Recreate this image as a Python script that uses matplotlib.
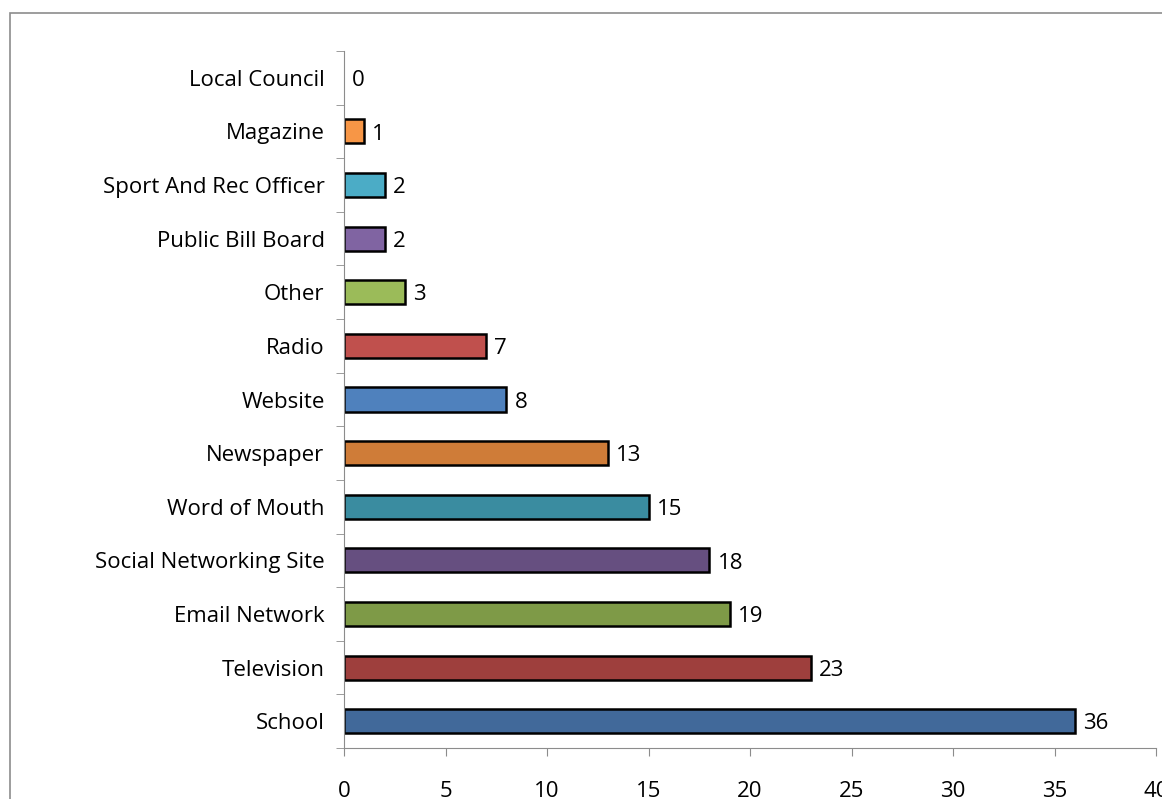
import matplotlib.pyplot as plt
from matplotlib.patches import Rectangle
import numpy as np

# where people heard about the program (count of responses)
sources = ["School", "Television", "Email Network", "Social Networking Site",
           "Word of Mouth", "Newspaper", "Website", "Radio", "Other",
           "Public Bill Board", "Sport And Rec Officer", "Magazine", "Local Council"]
counts = [36, 23, 19, 18, 15, 13, 8, 7, 3, 2, 2, 1, 0]
colours = ["#41699a", "#9e3f3d", "#7e9a47", "#664f80", "#3a8ca0", "#cf7c38",
           "#4f81bd", "#c0504d", "#9bbb59", "#8064a2", "#4bacc6", "#f79646", "#4f81bd"]
x_ticks = [0, 5, 10, 15, 20, 25, 30, 35, 40]

plt.rcParams['font.family'] = ['Open Sans', 'DejaVu Sans']

fig = plt.figure(figsize=(11.62, 7.99), dpi=100)
fig.patches.append(Rectangle((10 / 1162, -0.05), 1.1, 1 - 13 / 799 + 0.05,
                             transform=fig.transFigure, fill=False,
                             edgecolor="#8c8c8c", linewidth=1.2))

ax = fig.add_axes([344 / 1162, 1 - 748 / 799, (1156 - 344) / 1162, (748 - 51) / 799])
y = np.arange(len(sources))
# empty categories get no outline so nothing shows at zero
widths = [1.8 if c > 0 else 0 for c in counts]
ax.barh(y, counts, height=0.45, color=colours, edgecolor="black", linewidth=widths)

for yi, c in zip(y, counts):
    ax.text(c + 0.4, yi - 0.05, str(c), va="center", ha="left", fontsize=16)

ax.set_xlim(0, 40)
ax.set_ylim(-0.5, len(sources) - 0.5)
ax.set_xticks(x_ticks)
ax.set_yticks(y)
ax.set_yticklabels(sources)
ax.set_yticks(np.arange(-0.5, len(sources)), minor=True)

for side in ("top", "right"):
    ax.spines[side].set_visible(False)
for side in ("left", "bottom"):
    ax.spines[side].set_color("#8c8c8c")

ax.tick_params(axis="x", length=6, color="#8c8c8c", pad=18, labelsize=16)
ax.tick_params(axis="y", which="major", length=0, pad=14, labelsize=16)
ax.tick_params(axis="y", which="minor", length=6, color="#8c8c8c")

fig.savefig("out.png", dpi=100)
